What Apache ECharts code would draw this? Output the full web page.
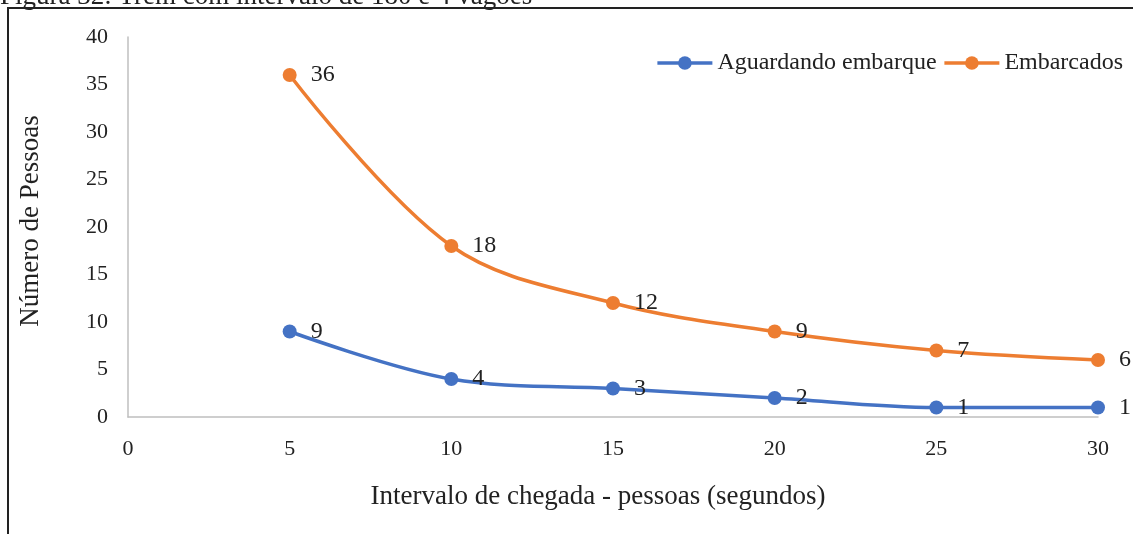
<!DOCTYPE html>
<html>
<head>
<meta charset="utf-8">
<script src="https://cdn.jsdelivr.net/npm/echarts@6/dist/echarts.min.js"></script>
<style>html,body{margin:0;padding:0;background:#fff;}#c{width:1135px;height:534px;}</style>
</head>
<body>
<div id="c"></div>
<script>
const xValues = [5, 10, 15, 20, 25, 30];
const aguardando = [9, 4, 3, 2, 1, 1];
const embarcados = [36, 18, 12, 9, 7, 6];
const seriesNames = ['Aguardando embarque', 'Embarcados'];
const titleText = 'Figura 32: Trem com intervalo de 180 e 4 vagões';
const xAxisName = 'Intervalo de chegada - pessoas (segundos)';
const yAxisName = 'Número de Pessoas';

const font = '"Liberation Serif", "Times New Roman", serif';
const chart = echarts.init(document.getElementById('c'), null, {renderer: 'canvas'});
function mk(name, vals, color) {
  return {
    name: name, type: 'line', smooth: 0.35,
    data: xValues.map((x, i) => [x, vals[i]]),
    symbol: 'circle', symbolSize: 14,
    lineStyle: {width: 3.5, color: color},
    itemStyle: {color: color},
    label: {show: true, position: 'right', distance: 14, color: '#222', fontFamily: font, fontSize: 24,
      formatter: p => p.value[1]},
    z: 3
  };
}
chart.setOption({
  animation: false,
  textStyle: {fontFamily: font},
  graphic: [
    {type: 'text', style: {x: 0, y: 10, verticalAlign: 'bottom', text: titleText, font: '27px ' + font, fill: '#222'}},
    {type: 'line', shape: {x1: 7, y1: 8, x2: 1133, y2: 8}, style: {stroke: '#222', lineWidth: 2}},
    {type: 'line', shape: {x1: 8, y1: 8, x2: 8, y2: 534}, style: {stroke: '#222', lineWidth: 2}}
  ],
  grid: {left: 128, right: 37, top: 37, bottom: 117, containLabel: false},
  legend: {
    right: 7, top: 46, itemWidth: 55, itemHeight: 17, itemGap: 6,
    lineStyle: {width: 3.5},
    textStyle: {fontFamily: font, fontSize: 24, color: '#222'},
    data: seriesNames
  },
  xAxis: {
    type: 'value', min: 0, max: 30, interval: 5,
    name: xAxisName, nameLocation: 'middle', nameGap: 66,
    nameTextStyle: {fontFamily: font, fontSize: 27, color: '#222', padding: [0, 30, 0, 0]},
    axisLine: {lineStyle: {color: '#bfbfbf', width: 1.5}},
    axisTick: {show: false},
    axisLabel: {fontFamily: font, fontSize: 22, color: '#222', margin: 21},
    splitLine: {show: false}
  },
  yAxis: {
    type: 'value', min: 0, max: 40, interval: 5,
    name: yAxisName, nameLocation: 'middle', nameGap: 84,
    nameTextStyle: {fontFamily: font, fontSize: 27, color: '#222', padding: [0, 0, 0, 12]},
    axisLine: {show: true, lineStyle: {color: '#bfbfbf', width: 1.5}},
    axisTick: {show: false},
    axisLabel: {fontFamily: font, fontSize: 22, color: '#222', margin: 20},
    splitLine: {show: false}
  },
  series: [mk(seriesNames[0], aguardando, '#4472c4'), mk(seriesNames[1], embarcados, '#ed7d31')]
});
</script>
</body>
</html>
